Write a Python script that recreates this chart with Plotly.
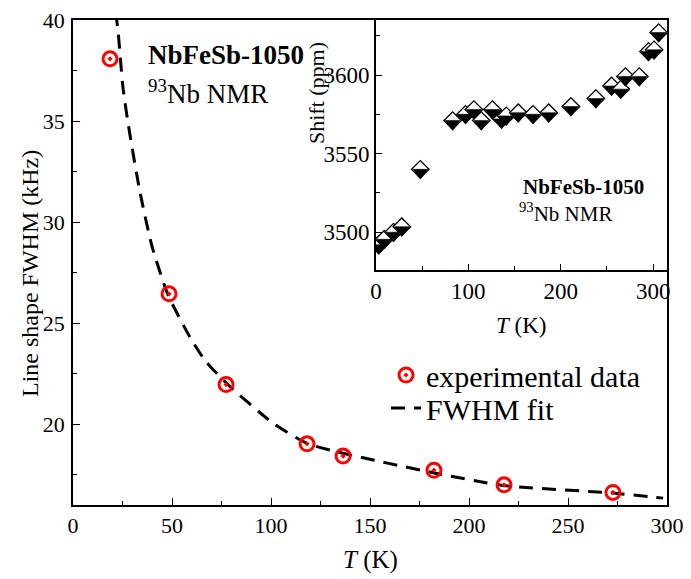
import plotly.graph_objects as go

# ---------------- data ----------------
# main panel: line shape FWHM vs temperature
T_exp = [18.7, 48.5, 77.3, 118.2, 136.4, 182.3, 217.7, 272.7]
fwhm_exp = [38.08, 26.45, 21.96, 19.03, 18.42, 17.72, 17.00, 16.62]

# fit curve
T_fit = [21.5, 22.7, 25.3, 28.8, 33.8, 39.9, 48.0, 59.1, 66.7, 77.8,
         101.0, 118.2, 136.4, 181.8, 217.2, 272.7, 298.0]
fwhm_fit = [40.4, 39.5, 36.6, 34.3, 31.5, 28.8, 26.4, 24.3, 23.15, 22.0,
            20.05, 19.05, 18.56, 17.6, 16.97, 16.59, 16.34]

# inset: shift vs temperature
T_ins = [3, 9, 19, 28, 48, 83, 97, 106, 114, 126, 136, 141, 154, 170, 187,
         211, 238, 255, 265, 270, 285, 295, 301, 306]
shift_ins = [3492, 3495.5, 3500, 3503.5, 3540, 3571, 3575, 3578, 3571, 3578,
             3572, 3574, 3576, 3575, 3576, 3580, 3585, 3593, 3591, 3599,
             3599, 3615, 3616, 3627]

# axis settings
main_x_range = [0, 300]
main_y_range = [16, 40]
ins_x_range = [0, 315]
ins_y_range = [3476, 3635]

# ---------------- layout geometry ----------------
OFF = 8                      # page body margin of the html page
W, H = 683, 571
ML, MR, MT, MB = 65, 24, 12, 74
plot_w = W - ML - MR
plot_h = H - MT - MB
ins_x_dom = [0.51, 1.0]
ins_y_dom = [0.4846, 1.0]

FONT = "Liberation Serif, Times New Roman, serif"

fig = go.Figure()

# fit line
fig.add_trace(go.Scatter(
    x=T_fit, y=fwhm_fit, mode="lines", name="FWHM fit", legend="legend2",
    line=dict(color="black", width=3, dash="14px,9px", shape="spline", smoothing=0.6),
    xaxis="x", yaxis="y"))

# experimental points
fig.add_trace(go.Scatter(
    x=T_exp, y=fwhm_exp, mode="markers", name="experimental data", legend="legend",
    marker=dict(symbol="circle-open-dot", size=14, color="#ff0000",
                line=dict(color="#ff0000", width=3)),
    xaxis="x", yaxis="y"))

# inset half-filled diamonds: white diamond + black lower half (downward triangle)
D_SIZE = 13.5
T_SIZE = 13.0
ins_h_px = (ins_y_dom[1] - ins_y_dom[0]) * plot_h
units_per_px = (ins_y_range[1] - ins_y_range[0]) / ins_h_px
tri_shift = -0.5 * (T_SIZE / 2) * units_per_px   # put the triangle base on the diamond centre
for t, s in zip(T_ins, shift_ins):
    fig.add_trace(go.Scatter(
        x=[t], y=[s], mode="markers", showlegend=False,
        marker=dict(symbol="diamond", size=D_SIZE, color="white",
                    line=dict(color="black", width=1.3)),
        xaxis="x2", yaxis="y2"))
    fig.add_trace(go.Scatter(
        x=[t], y=[s + tri_shift], mode="markers", showlegend=False,
        marker=dict(symbol="triangle-down", size=T_SIZE, color="black",
                    line=dict(color="black", width=0.6)),
        xaxis="x2", yaxis="y2"))

axis_common = dict(showline=True, linecolor="black", linewidth=1.5, mirror=True,
                   showgrid=False, zeroline=False, ticks="inside", tickcolor="black",
                   tickwidth=1.3, ticklen=7, ticklabeloverflow="allow", automargin=False,
                   tickfont=dict(family=FONT, size=22, color="black"))
minor_common = dict(ticks="inside", ticklen=4, tickcolor="black", tickwidth=1.2)
ins_tickfont = dict(family=FONT, size=23, color="black")

fig.update_layout(
    width=W, height=H,
    margin=dict(l=ML, r=MR, t=MT, b=MB, autoexpand=False),
    paper_bgcolor="white", plot_bgcolor="white",
    font=dict(family=FONT, color="black"),
    xaxis=dict(range=main_x_range, domain=[0, 1], anchor="y", tick0=0, dtick=50,
               minor=dict(dtick=25, **minor_common), **axis_common),
    yaxis=dict(range=main_y_range, domain=[0, 1], anchor="x", tick0=0, dtick=5,
               minor=dict(dtick=2.5, **minor_common), ticklabelstandoff=2, **axis_common),
    xaxis2=dict(range=ins_x_range, domain=ins_x_dom, anchor="y2", tick0=0, dtick=100,
                minor=dict(dtick=50, **minor_common),
                **{**axis_common, "tickfont": ins_tickfont, "ticklen": 6}),
    yaxis2=dict(range=ins_y_range, domain=ins_y_dom, anchor="x2", tick0=3500, dtick=50,
                minor=dict(dtick=25, **minor_common),
                **{**axis_common, "tickfont": ins_tickfont, "ticklen": 6}),
    showlegend=True,
)


def px_x(p):
    """window pixel x -> paper x"""
    return (p - OFF - ML) / plot_w


def px_y(p):
    """window pixel y -> paper y"""
    return (MT + plot_h - (p - OFF)) / plot_h


legend_common = dict(xanchor="left", yanchor="top", bgcolor="rgba(0,0,0,0)",
                     font=dict(family=FONT, size=30, color="black"), itemwidth=30)
fig.update_layout(
    legend=dict(x=px_x(386), y=px_y(349), **legend_common),
    legend2=dict(x=px_x(386), y=px_y(382), **legend_common),
)

annotations = [
    # axis titles
    dict(text="<i>T</i> (K)", x=px_x(370), y=px_y(560), xanchor="center", yanchor="middle",
         font=dict(family=FONT, size=25)),
    dict(text="Line shape FWHM (kHz)", x=px_x(30), y=px_y(274), textangle=-90,
         xanchor="center", yanchor="middle", font=dict(family=FONT, size=24)),
    dict(text="Shift (ppm)", x=px_x(316), y=px_y(93), textangle=-90,
         xanchor="center", yanchor="middle", font=dict(family=FONT, size=22)),
    dict(text="<i>T</i> (K)", x=px_x(521), y=px_y(325), xanchor="center", yanchor="middle",
         font=dict(family=FONT, size=23)),
    # sample labels
    dict(text="<b>NbFeSb-1050</b>", x=px_x(146), y=px_y(55), xanchor="left", yanchor="middle",
         font=dict(family=FONT, size=27)),
    dict(text="<sup>93</sup>Nb NMR", x=px_x(146), y=px_y(92), xanchor="left", yanchor="middle",
         font=dict(family=FONT, size=27)),
    dict(text="<b>NbFeSb-1050</b>", x=px_x(521), y=px_y(187), xanchor="left", yanchor="middle",
         font=dict(family=FONT, size=21)),
    dict(text="<sup>93</sup>Nb NMR", x=px_x(517), y=px_y(212), xanchor="left", yanchor="middle",
         font=dict(family=FONT, size=21)),
]
for a in annotations:
    a.update(xref="paper", yref="paper", showarrow=False)
fig.update_layout(annotations=annotations)

fig.write_html("out.html")
